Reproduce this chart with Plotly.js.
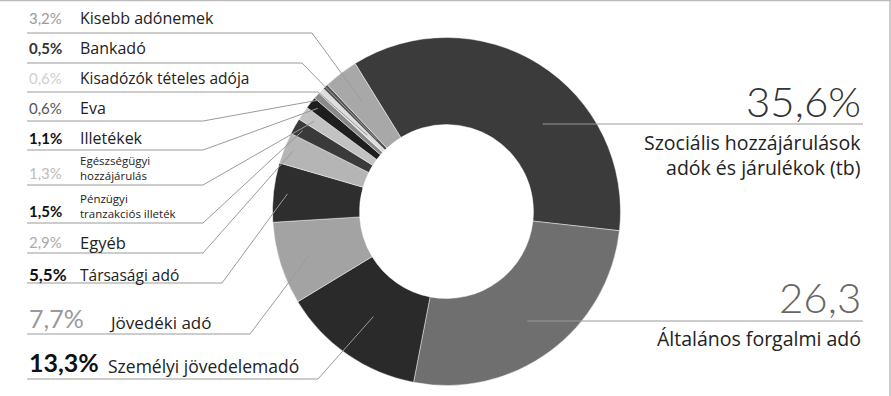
<!DOCTYPE html>
<html>
<head>
<meta charset="utf-8">
<script src="https://cdn.plot.ly/plotly-3.0.1.min.js"></script>
<style>html,body{margin:0;padding:0;background:#fff;}#chart{width:891px;height:396px;}</style>
</head>
<body>
<div id="chart"></div>
<script>
// ---- data ----
const categories = ['Szociális hozzájárulások adók és járulékok (tb)', 'Általános forgalmi adó', 'Személyi jövedelemadó', 'Jövedéki adó', 'Társasági adó', 'Egyéb', 'Pénzügyi tranzakciós illeték', 'Egészségügyi hozzájárulás', 'Illetékek', 'Eva', 'Kisadózók tételes adója', 'Bankadó', 'Kisebb adónemek'];
const values = [35.6, 26.3, 13.3, 7.7, 5.5, 2.9, 1.5, 1.3, 1.1, 0.6, 0.6, 0.5, 3.2];
const valueLabels = ['35,6%', '26,3', '13,3%', '7,7%', '5,5%', '2,9%', '1,5%', '1,3%', '1,1%', '0,6%', '0,6%', '0,5%', '3,2%'];
const nameLabels = ['Szociális hozzájárulások<br>adók és járulékok (tb)', 'Általános forgalmi adó', 'Személyi jövedelemadó', 'Jövedéki adó', 'Társasági adó', 'Egyéb', 'Pénzügyi<br>tranzakciós illeték', 'Egészségügyi<br>hozzájárulás', 'Illetékek', 'Eva', 'Kisadózók tételes adója', 'Bankadó', 'Kisebb adónemek'];

// ---- style ----
const colors = ['#3b3b3b', '#6f6f6f', '#2a2a2a', '#a3a3a3', '#2e2e2e', '#b5b5b5', '#3a3a3a', '#c2c2c2', '#1e1e1e', '#8a8a8a', '#dedede', '#555555', '#a8a8a8'];
const W = 891, H = 396;
const CX = 446.5, CY = 211.5, R = 174;
const ROT = -31.7;
const NUMFONT = 'Lato, "Open Sans", sans-serif';
const NAMEFONT = '"Open Sans", Lato, sans-serif';
const LINE = '#9a9a9a';

// left label layout: index -> settings (pixel positions)
const leftCfg = [
  {i: 12, ty: 18,  uy: 33,  ex: 312, r: 140, ps: 15, pc: '#9a9a9a', pw: 400, ny: 18,  nx: 78,  ns: 16},
  {i: 11, ty: 48,  uy: 63,  ex: 302, r: 100, ps: 15, pc: '#333',    pw: 700, ny: 48,  nx: 78,  ns: 16},
  {i: 10, ty: 78,  uy: 92,  ex: 318, r: 110, ps: 15, pc: '#cfcfcf', pw: 400, ny: 78,  nx: 78,  ns: 15.5},
  {i: 9,  ty: 108, uy: 121, ex: 203, r: 168, ps: 15, pc: '#555',    pw: 400, ny: 108, nx: 78,  ns: 16},
  {i: 8,  ty: 138, uy: 150, ex: 203, r: 165, ps: 15, pc: '#111',    pw: 700, ny: 138, nx: 78,  ns: 16},
  {i: 7,  ty: 173, uy: 185, ex: 203, r: 160, ps: 15, pc: '#bdbdbd', pw: 400, ny: 167.5, nx: 78, ns: 11.5},
  {i: 6,  ty: 211, uy: 223, ex: 203, r: 165, ps: 15, pc: '#111',    pw: 700, ny: 205.5, nx: 78, ns: 11.5},
  {i: 5,  ty: 242, uy: 253, ex: 203, r: 165, ps: 15, pc: '#ababab', pw: 400, ny: 242, nx: 78,  ns: 16.5},
  {i: 4,  ty: 274, uy: 283, ex: 222, r: 160, ps: 17, pc: '#111',    pw: 700, ny: 275, nx: 78,  ns: 15.5},
  {i: 3,  ty: 318, uy: 334, ex: 250, r: 143, ps: 25, pc: '#9a9a9a', pw: 400, ny: 322, nx: 107, ns: 17},
  {i: 2,  ty: 362, uy: 379, ex: 318, r: 128, ps: 25, pc: '#111',    pw: 700, ny: 366, nx: 106, ns: 17.5}
];
const rightCfg = [
  {i: 0, vy: 101, vc: '#333', uy: 124, r: 130, ny: 154.5},
  {i: 1, vy: 297, vc: '#666', uy: 321, r: 136, ny: 338}
];

const px = x => x / W;
const py = y => 1 - y / H;
const total = values.reduce((a, b) => a + b, 0);
const cum = [];
values.reduce((acc, v, k) => { cum[k] = acc; return acc + v; }, 0);
function anchor(i, r) {
  const a = (ROT + 360 * (cum[i] + values[i] / 2) / total) * Math.PI / 180;
  return [CX + r * Math.sin(a), CY - r * Math.cos(a)];
}

const annotations = [];
const shapes = [];
leftCfg.forEach(c => {
  annotations.push({xref: 'paper', yref: 'paper', x: px(27), y: py(c.ty), xanchor: 'left', yanchor: 'middle', showarrow: false,
    text: valueLabels[c.i], font: {family: NUMFONT, size: c.ps, color: c.pc, weight: c.pw}});
  annotations.push({xref: 'paper', yref: 'paper', x: px(c.nx), y: py(c.ny), xanchor: 'left', yanchor: 'middle', align: 'left', showarrow: false,
    text: nameLabels[c.i], font: {family: NAMEFONT, size: c.ns, color: '#222'}});
  const [ax, ay] = anchor(c.i, c.r);
  shapes.push({type: 'path', xref: 'paper', yref: 'paper', layer: 'above',
    path: `M ${px(27)} ${py(c.uy)} L ${px(c.ex)} ${py(c.uy)} L ${px(ax)} ${py(ay)}`,
    line: {color: LINE, width: 1}});
});
rightCfg.forEach(c => {
  annotations.push({xref: 'paper', yref: 'paper', x: px(863), y: py(c.vy), xanchor: 'right', yanchor: 'middle', showarrow: false,
    text: valueLabels[c.i], font: {family: NUMFONT, size: 42, color: c.vc, weight: 300}});
  annotations.push({xref: 'paper', yref: 'paper', x: px(863), y: py(c.ny), xanchor: 'right', yanchor: 'middle', align: 'right', showarrow: false,
    text: nameLabels[c.i], font: {family: NAMEFONT, size: 19.5, color: '#222'}});
  const dy = c.uy - CY;
  const ax = CX + Math.sqrt(c.r * c.r - dy * dy);
  shapes.push({type: 'line', xref: 'paper', yref: 'paper', layer: 'above',
    x0: px(ax), y0: py(c.uy), x1: px(863), y1: py(c.uy), line: {color: LINE, width: 1}});
});
// frame lines (top and right)
shapes.push({type: 'line', xref: 'paper', yref: 'paper', x0: 0, x1: 1, y0: py(0.5), y1: py(0.5), line: {color: '#bbb', width: 1.5}});
shapes.push({type: 'line', xref: 'paper', yref: 'paper', x0: px(890), x1: px(890), y0: 0, y1: 1, line: {color: '#bbb', width: 1.5}});

const trace = {
  type: 'pie', labels: categories, values: values, sort: false, direction: 'clockwise', rotation: ROT,
  hole: 0.5, textinfo: 'none', hoverinfo: 'label+percent',
  marker: {colors: colors, line: {color: 'rgba(255,255,255,0.55)', width: 0.8}},
  domain: {x: [px(CX - R), px(CX + R)], y: [py(CY + R), py(CY - R)]},
  showlegend: false
};

Plotly.newPlot('chart', [trace], {
  width: W, height: H, margin: {l: 0, r: 0, t: 0, b: 0},
  paper_bgcolor: '#fff', plot_bgcolor: '#fff', showlegend: false,
  annotations: annotations, shapes: shapes
}, {displayModeBar: false, staticPlot: true});
</script>
</body>
</html>
